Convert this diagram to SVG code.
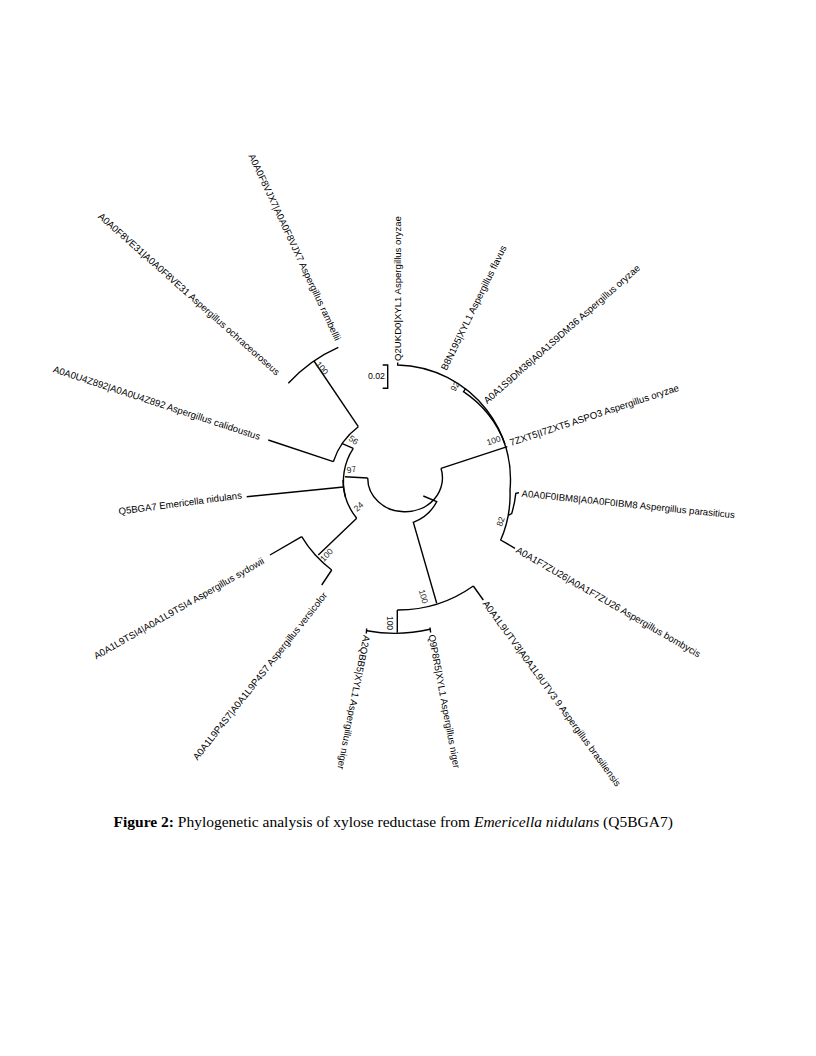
<svg xmlns="http://www.w3.org/2000/svg" width="816" height="1056" viewBox="0 0 816 1056">
<style>
.br{fill:none;stroke:#000;stroke-width:1.4;stroke-linecap:butt;stroke-linejoin:miter}
.lb{font-family:"Liberation Sans",Arial,sans-serif;font-size:9.6px;fill:#000}
.le{text-anchor:end}
.bs{font-family:"Liberation Sans",Arial,sans-serif;font-size:8.5px;fill:#222;text-anchor:middle}
.cap{font-family:"Liberation Serif","Times New Roman",serif;font-size:15.5px;fill:#000}
</style>
<rect width="816" height="1056" fill="#fff"/>

<g id="connectors" class="br">
  <!-- root -->
  <path d="M367.7 478 A36.3 33.7 0 0 0 404 511.7 A37 34 0 0 0 441 468.3"/>
  <path d="M367.7 478 L345 476.7"/>
  <path d="M441 468.3 L507.3 446.7"/>
  <path d="M423.3 496 L436.7 501.7 A43 43 0 0 1 413.3 522.3 L436.7 603.3"/>
  <!-- left clade -->
  <path d="M353.3 448.3 A59.5 59.5 0 0 0 345.5 497"/>
  <path d="M343 480 A61.5 61.5 0 0 0 356.7 518.3"/>
  <path d="M343.5 487 L246.7 496.7"/>
  <path d="M353.3 448.3 L341.7 443.3"/>
  <path d="M333.3 461.7 A71 71 0 0 1 358.3 426.7"/>
  <path d="M333.3 461.7 L268.3 440"/>
  <path d="M358.3 426.7 L314 361"/>
  <path d="M288.3 383.3 A148 148 0 0 1 338.3 347.3"/>
  <path d="M356.7 518.3 L318.3 555"/>
  <path d="M301.7 536.7 A117 117 0 0 0 331.7 570"/>
  <path d="M301.7 536.7 L270 555"/>
  <path d="M331.7 570 L321.7 585"/>
  <!-- niger / brasiliensis clade -->
  <path d="M397.3 610 A130 130 0 0 0 473.3 586"/>
  <path d="M473.3 586 L483.3 600"/>
  <path d="M397.3 610 L397.3 632.7"/>
  <path d="M366.7 630.7 A155 155 0 0 0 430 629.3"/>
  <path d="M366.7 628.5 L366.3 633.5"/>
  <path d="M430 627.5 L430.6 632.5"/>
  <!-- oryzae / flavus clade -->
  <path d="M397.7 362.5 L397.7 365 A116 116 0 0 1 486.7 410 A113 113 0 0 1 510 490 A114 114 0 0 1 500.7 540 L515 548.3"/>
  <path d="M465.8 388.3 L463.5 391.7 A110 110 0 0 1 505 444"/>
  <path d="M519 492.8 L515.8 493.3 A112 112 0 0 1 511.7 513.5 L508.3 515.5"/>
</g>

<g id="scale-bar">
  <path class="br" d="M382.7 365 H387.7 V388.3 H382.7"/>
  <text class="lb le" x="385" y="378.8" style="font-size:8.8px">0.02</text>
</g>

<g id="leaf-Q2UKD0"><text class="lb" transform="translate(398 361) rotate(-90)" dy="0.35em">Q2UKD0|XYL1 Aspergillus oryzae</text></g>
<g id="leaf-B8N195"><text class="lb" transform="translate(443.5 369.5) rotate(-64)" dy="0.35em">B8N195|XYL1 Aspergillus flavus</text></g>
<g id="leaf-A0A1S9DM36"><text class="lb" transform="translate(485 401.7) rotate(-41.4)" dy="0.35em">A0A1S9DM36|A0A1S9DM36 Aspergillus oryzae</text></g>
<g id="leaf-I7ZXT5"><text class="lb" transform="translate(510 442.7) rotate(-18.2)" dy="0.35em">7ZXT5|I7ZXT5 ASPO3 Aspergillus oryzae</text></g>
<g id="leaf-A0A0F0IBM8"><text class="lb" transform="translate(521.7 493.3) rotate(5.8)" dy="0.35em">A0A0F0IBM8|A0A0F0IBM8 Aspergillus parasiticus</text></g>
<g id="leaf-A0A1F7ZU26"><text class="lb" transform="translate(517 549.2) rotate(30)" dy="0.35em">A0A1F7ZU26|A0A1F7ZU26 Aspergillus bombycis</text></g>
<g id="leaf-A0A1L9UTV3"><text class="lb" transform="translate(485 601.7) rotate(53.9)" dy="0.35em">A0A1L9UTV3|A0A1L9UTV3 9 Aspergillus brasiliensis</text></g>
<g id="leaf-Q9P8R5"><text class="lb" transform="translate(431.7 634.5) rotate(79.3)" dy="0.35em">Q9P8R5|XYL1 Aspergillus niger</text></g>
<g id="leaf-A2QBB5"><text class="lb" transform="translate(366.7 635.5) rotate(101)" dy="0.35em">A2QBB5|XYL1 Aspergillus niger</text></g>
<g id="leaf-A0A1L9P4S7"><text class="lb le" transform="translate(325 593.3) rotate(-51.8)" dy="0.35em">A0A1L9P4S7|A0A1L9P4S7 Aspergillus versicolor</text></g>
<g id="leaf-A0A1L9TSI4"><text class="lb le" transform="translate(263.3 560) rotate(-29.8)" dy="0.35em">A0A1L9TSI4|A0A1L9TSI4 Aspergillus sydowii</text></g>
<g id="leaf-Q5BGA7"><text class="lb le" transform="translate(241.7 495) rotate(-7.6)" dy="0.35em">Q5BGA7 Emericella nidulans</text></g>
<g id="leaf-A0A0U4Z892"><text class="lb le" transform="translate(260 436.7) rotate(18.2)" dy="0.35em">A0A0U4Z892|A0A0U4Z892 Aspergillus calidoustus</text></g>
<g id="leaf-A0A0F8VE31"><text class="lb le" transform="translate(278.3 373.3) rotate(41.6)" dy="0.35em">A0A0F8VE31|A0A0F8VE31 Aspergillus ochraceoroseus</text></g>
<g id="leaf-A0A0F8VJX7"><text class="lb le" transform="translate(338.3 340) rotate(64.9)" dy="0.35em">A0A0F8VJX7|A0A0F8VJX7 Aspergillus rambellii</text></g>

<g id="node-rambellii-100"><text class="bs" transform="translate(322 368) rotate(50)" dy="0.35em">100</text></g>
<g id="node-56"><text class="bs" transform="translate(353.5 440) rotate(35)" dy="0.35em">56</text></g>
<g id="node-97"><text class="bs" transform="translate(351.5 469.5) rotate(-10)" dy="0.35em">97</text></g>
<g id="node-24"><text class="bs" transform="translate(358.5 506.5) rotate(-42)" dy="0.35em">24</text></g>
<g id="node-sydowii-100"><text class="bs" transform="translate(326.5 555) rotate(-46)" dy="0.35em">100</text></g>
<g id="node-niger-100"><text class="bs" transform="translate(423.5 596.5) rotate(74)" dy="0.35em">100</text></g>
<g id="node-nigersub-100"><text class="bs" transform="translate(389.5 623) rotate(90)" dy="0.35em">100</text></g>
<g id="node-92"><text class="bs" transform="translate(455 386.5) rotate(-58)" dy="0.35em">92</text></g>
<g id="node-oryzae-100"><text class="bs" transform="translate(493.5 440.5) rotate(-18)" dy="0.35em">100</text></g>
<g id="node-82"><text class="bs" transform="translate(500.5 521.5) rotate(-70)" dy="0.35em">82</text></g>

<g id="caption"><text class="cap" x="113.5" y="827"><tspan font-weight="bold">Figure 2:</tspan> Phylogenetic analysis of xylose reductase from <tspan font-style="italic">Emericella nidulans</tspan> (Q5BGA7)</text></g>
</svg>
